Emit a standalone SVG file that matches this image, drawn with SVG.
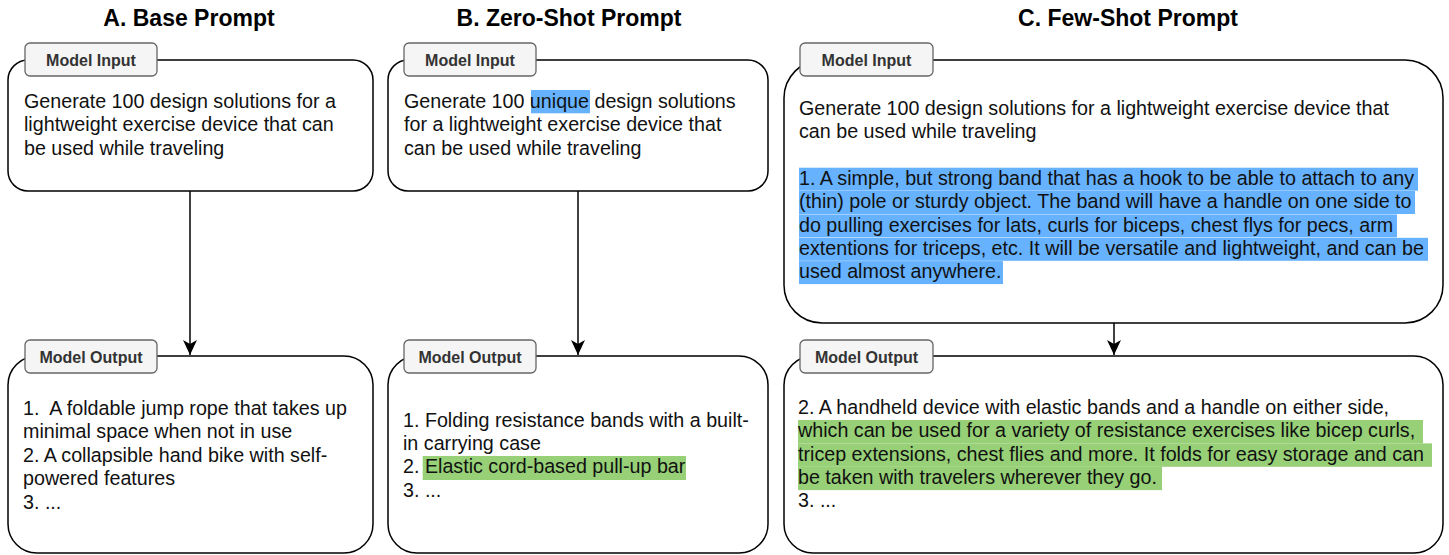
<svg xmlns="http://www.w3.org/2000/svg" width="1449" height="555" viewBox="0 0 1449 555">
  <defs>
    <style>
      .title{font-family:"Liberation Sans",Arial,sans-serif;font-weight:bold;font-size:23px;fill:#000;text-anchor:middle}
      .body{font-family:"Liberation Sans",Arial,sans-serif;font-size:19.7px;fill:#111;white-space:pre}
      .box{fill:#fff;stroke:#000;stroke-width:1.5}
      .tab{fill:#f5f5f5;stroke:#666;stroke-width:1.3}
      .tabtext{font-family:"Liberation Sans",Arial,sans-serif;font-weight:bold;font-size:16px;fill:#333;text-anchor:middle}
      .hl-blue{fill:#66b2ff}
      .hl-green{fill:#97d077}
      .edge{stroke:#000;stroke-width:1.5;fill:none;marker-end:url(#arrow)}
    </style>
    <marker id="arrow" markerUnits="userSpaceOnUse" markerWidth="15" markerHeight="14" viewBox="0 0 15 14" refX="15" refY="7" orient="auto">
      <path d="M0,0 L15,7 L0,14 L4,7 z" fill="#000"/>
    </marker>
  </defs>

  <rect x="0" y="0" width="1449" height="555" fill="#fff"/>

  <!-- column headings -->
  <g id="titles">
    <text class="title" x="189" y="26">A. Base Prompt</text>
    <text class="title" x="569" y="26">B. Zero-Shot Prompt</text>
    <text class="title" x="1128" y="26">C. Few-Shot Prompt</text>
  </g>

  <!-- connectors -->
  <g id="connectors">
    <path class="edge" d="M190,191 L190,355"/>
    <path class="edge" d="M578,191 L578,355"/>
    <path class="edge" d="M1114,323 L1114,355"/>
  </g>

  <!-- A: base prompt -->
  <g id="a-input">
    <rect class="box" x="8" y="60" width="365" height="131" rx="20"/>
    <rect class="tab" x="25" y="43" width="132" height="33" rx="5"/>
    <text class="tabtext" x="91" y="65.5">Model Input</text>
    <text class="body">
      <tspan x="24" y="108">Generate 100 design solutions for a</tspan>
      <tspan x="24" y="131.4">lightweight exercise device that can</tspan>
      <tspan x="24" y="154.8">be used while traveling</tspan>
    </text>
  </g>
  <g id="a-output">
    <rect class="box" x="8" y="356" width="365" height="197" rx="29"/>
    <rect class="tab" x="25" y="340" width="132" height="33" rx="5"/>
    <text class="tabtext" x="91" y="362.5">Model Output</text>
    <text class="body">
      <tspan x="23" y="415">1.  A foldable jump rope that takes up</tspan>
      <tspan x="23" y="438.4">minimal space when not in use</tspan>
      <tspan x="23" y="461.8">2. A collapsible hand bike with self-</tspan>
      <tspan x="23" y="485.2">powered features</tspan>
      <tspan x="23" y="508.6">3. ...</tspan>
    </text>
  </g>

  <!-- B: zero-shot prompt -->
  <g id="b-input">
    <rect class="box" x="388" y="60" width="380" height="131" rx="20"/>
    <rect class="tab" x="404" y="43" width="132" height="33" rx="5"/>
    <text class="tabtext" x="470" y="65.5">Model Input</text>
    <rect class="hl-blue" x="531" y="90" width="59" height="23.3"/>
    <text class="body">
      <tspan x="404" y="108">Generate 100 unique design solutions</tspan>
      <tspan x="404" y="131.4">for a lightweight exercise device that</tspan>
      <tspan x="404" y="154.8">can be used while traveling</tspan>
    </text>
  </g>
  <g id="b-output">
    <rect class="box" x="388" y="356" width="380" height="197" rx="29"/>
    <rect class="tab" x="404" y="340" width="132" height="33" rx="5"/>
    <text class="tabtext" x="470" y="362.5">Model Output</text>
    <rect class="hl-green" x="422.7" y="456" width="263.3" height="24"/>
    <text class="body">
      <tspan x="403" y="427">1. Folding resistance bands with a built-</tspan>
      <tspan x="403" y="450.2">in carrying case</tspan>
      <tspan x="403" y="473.4">2. Elastic cord-based pull-up bar</tspan>
      <tspan x="403" y="496.6">3. ...</tspan>
    </text>
  </g>

  <!-- C: few-shot prompt -->
  <g id="c-input">
    <rect class="box" x="784" y="60" width="659" height="263" rx="38"/>
    <rect class="tab" x="800" y="43" width="133" height="33" rx="5"/>
    <text class="tabtext" x="866.5" y="65.5">Model Input</text>
    <rect class="hl-blue" x="799" y="167.7" width="619" height="23"/>
    <rect class="hl-blue" x="799" y="191" width="616" height="23"/>
    <rect class="hl-blue" x="799" y="214.4" width="598" height="23"/>
    <rect class="hl-blue" x="799" y="237.8" width="629" height="23"/>
    <rect class="hl-blue" x="799" y="261.1" width="204" height="23"/>
    <text class="body">
      <tspan x="799" y="115">Generate 100 design solutions for a lightweight exercise device that</tspan>
      <tspan x="799" y="138.35">can be used while traveling</tspan>
      <tspan x="799" y="185.05">1. A simple, but strong band that has a hook to be able to attach to any</tspan>
      <tspan x="799" y="208.4">(thin) pole or sturdy object. The band will have a handle on one side to</tspan>
      <tspan x="799" y="231.75">do pulling exercises for lats, curls for biceps, chest flys for pecs, arm</tspan>
      <tspan x="799" y="255.1">extentions for triceps, etc. It will be versatile and lightweight, and can be</tspan>
      <tspan x="799" y="278.45">used almost anywhere.</tspan>
    </text>
  </g>
  <g id="c-output">
    <rect class="box" x="784" y="356" width="659" height="197" rx="29"/>
    <rect class="tab" x="800" y="340" width="133" height="33" rx="5"/>
    <text class="tabtext" x="866.5" y="362.5">Model Output</text>
    <rect class="hl-green" x="798" y="420" width="625" height="23.4"/>
    <rect class="hl-green" x="798" y="443.4" width="634" height="23.4"/>
    <rect class="hl-green" x="798" y="466.7" width="364" height="23.4"/>
    <text class="body">
      <tspan x="798" y="414">2. A handheld device with elastic bands and a handle on either side,</tspan>
      <tspan x="798" y="437.3">which can be used for a variety of resistance exercises like bicep curls,</tspan>
      <tspan x="798" y="460.7">tricep extensions, chest flies and more. It folds for easy storage and can</tspan>
      <tspan x="798" y="484">be taken with travelers wherever they go.</tspan>
      <tspan x="798" y="507.4">3. ...</tspan>
    </text>
  </g>
</svg>
